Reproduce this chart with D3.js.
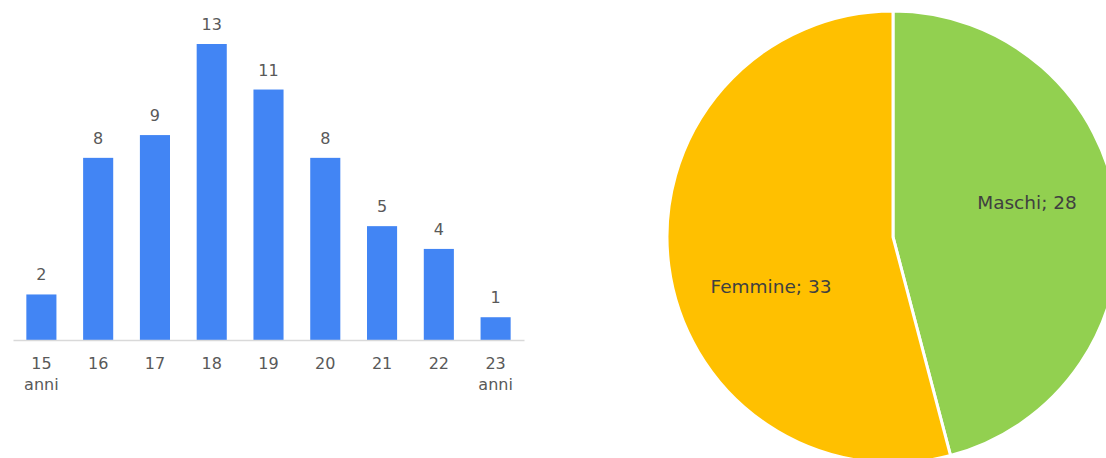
<!DOCTYPE html>
<html><head><meta charset="utf-8">
<script src="https://cdn.jsdelivr.net/npm/d3@7"></script>
<style>
html,body{margin:0;padding:0;background:#fff;}
svg{display:block;font-family:"DejaVu Sans",sans-serif;}
</style></head>
<body><svg id="c" width="1106" height="458"></svg>
<script>
const ages = ["15","16","17","18","19","20","21","22","23"];
const ageLabels = [["15","anni"],["16"],["17"],["18"],["19"],["20"],["21"],["22"],["23","anni"]];
const counts = [2,8,9,13,11,8,5,4,1];
const genders = ["Maschi","Femmine"];
const genderValues = [28,33];
const genderColors = ["#92D050","#FFC000"];

const svg = d3.select("#c");

// Bar chart
const x = d3.scaleBand().domain(ages).range([13,524]).paddingInner(0.47).paddingOuter(0.235);
const y = d3.scaleLinear().domain([0,13]).range([340,44]);
const g = svg.append("g");
g.selectAll("rect.bar").data(counts).join("rect")
  .attr("class","bar")
  .attr("x",(d,i)=>x(ages[i]))
  .attr("width",x.bandwidth())
  .attr("y",d=>y(d))
  .attr("height",d=>y(0)-y(d))
  .attr("fill","#4285F4");
g.selectAll("text.val").data(counts).join("text")
  .attr("class","val")
  .attr("x",(d,i)=>x(ages[i])+x.bandwidth()/2)
  .attr("y",d=>y(d)-14)
  .attr("text-anchor","middle")
  .attr("fill","#595959")
  .attr("font-size","16px")
  .text(d=>d);
const axis = d3.axisBottom(x).tickSize(0).tickFormat("");
const ax = g.append("g").attr("transform","translate(0,340)").call(axis);
ax.select(".domain").attr("stroke","#D9D9D9").attr("stroke-width",1.3);
ages.forEach((a,i)=>{
  const t = g.append("text").attr("x",x(a)+x.bandwidth()/2).attr("y",369)
    .attr("text-anchor","middle").attr("fill","#595959").attr("font-size","16px");
  ageLabels[i].forEach((l,j)=>{
    t.append("tspan").attr("x",x(a)+x.bandwidth()/2).attr("dy",j===0?0:21).text(l);
  });
});

// Pie chart
const cx = 893, cy = 237, r = 226;
const pie = d3.pie().sort(null).value(d=>d)(genderValues);
const arc = d3.arc().innerRadius(0).outerRadius(r);
const pg = svg.append("g").attr("transform",`translate(${cx},${cy})`);
pg.selectAll("path").data(pie).join("path")
  .attr("d",arc)
  .attr("fill",(d,i)=>genderColors[i])
  .attr("stroke","#fff").attr("stroke-width",3).attr("stroke-linejoin","round");
const labelPos = [[134,-34],[-122,50]];
pg.selectAll("text").data(pie).join("text")
  .attr("x",(d,i)=>labelPos[i][0])
  .attr("y",(d,i)=>labelPos[i][1]+6)
  .attr("text-anchor","middle")
  .attr("fill","#404040")
  .attr("font-size","18.5px")
  .text((d,i)=>genders[i]+"; "+d.data);
</script></body></html>
